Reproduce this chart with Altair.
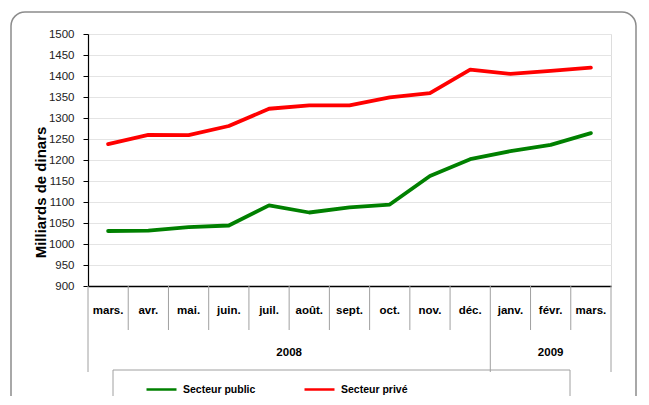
import altair as alt
import pandas as pd

months = ["mars.", "avr.", "mai.", "juin.", "juil.", "août.", "sept.", "oct.", "nov.", "déc.", "janv.", "févr.", "mars."]
years = ["2008", "2009"]
year_span = [(0, 10), (10, 13)]
public = [1031, 1032, 1040, 1044, 1092, 1075, 1087, 1094, 1162, 1202, 1221, 1236, 1264]
prive = [1238, 1260, 1259, 1281, 1322, 1330, 1330, 1349, 1359, 1415, 1405, 1412, 1420]
series_names = ["Secteur public", "Secteur privé"]
series_colors = ["#008000", "#ff0000"]

FONT = "Liberation Sans"
W, H = 523, 252

rows = []
for i, m in enumerate(months):
    rows.append({"pos": i + 0.5, "mois": m, "serie": series_names[0], "val": public[i]})
    rows.append({"pos": i + 0.5, "mois": m, "serie": series_names[1], "val": prive[i]})
df = pd.DataFrame(rows)

mdf = pd.DataFrame({"pos": [i + 0.5 for i in range(len(months))], "mois": months})
short_b = pd.DataFrame({"b": [b for b in range(1, len(months)) if b not in (10,)]})
long_b = pd.DataFrame({"b": [0, 10, 13]})
ydf = pd.DataFrame({"pos": [(a + b) / 2 for a, b in year_span], "year": years})

xs = alt.Scale(domain=[0, 13], nice=False, zero=False)
ys = alt.Scale(domain=[900, 1500], nice=False, zero=False)

frame = alt.Chart(pd.DataFrame({"k": [0]})).mark_rect(
    fill=None, stroke="#8c8c8c", strokeWidth=1.5, cornerRadius=14
).encode(x=alt.value(-77), x2=alt.value(548), y=alt.value(-22), y2=alt.value(420))

legbox = alt.Chart(pd.DataFrame({"k": [0]})).mark_rect(
    fill=None, stroke="#a0a0a0", strokeWidth=1
).encode(x=alt.value(25), x2=alt.value(482), y=alt.value(336), y2=alt.value(420))

lines = alt.Chart(df).mark_line(strokeWidth=3.8, strokeJoin="round", strokeCap="round").encode(
    x=alt.X("pos:Q", scale=xs, axis=alt.Axis(labels=False, ticks=False, grid=False, title=None,
                                              domainColor="black", domainWidth=1.5)),
    y=alt.Y("val:Q", scale=ys, axis=alt.Axis(
        values=list(range(900, 1501, 50)), format="d", title="Milliards de dinars",
        titleFont=FONT, titleFontSize=15, titleFontWeight="bold", titleColor="black",
        titleX=-48, titleY=158, titleBaseline="middle", titleAlign="center",
        labelFont=FONT, labelFontSize=11.5, labelColor="#222", labelPadding=9,
        tickColor="black", tickSize=5, domainColor="black", domainWidth=1.2,
        gridColor="#e4e4e4", gridWidth=1)),
    color=alt.Color("serie:N", scale=alt.Scale(domain=series_names, range=series_colors),
                    legend=alt.Legend(orient="none", legendX=57, legendY=339, direction="horizontal",
                                      title=None, symbolType="stroke", symbolSize=900,
                                      symbolStrokeWidth=2.5, labelFont=FONT, labelFontSize=10.5,
                                      labelFontWeight="bold", labelColor="black",
                                      columnPadding=43, labelOffset=5, padding=0)),
)

mlabels = alt.Chart(mdf).mark_text(font=FONT, fontSize=11.5, fontWeight="bold", color="black",
                                   baseline="middle").encode(
    x=alt.X("pos:Q", scale=xs), y=alt.value(277), text="mois:N")

sticks = alt.Chart(short_b).mark_rule(color="#a0a0a0", strokeWidth=1).encode(
    x=alt.X("b:Q", scale=xs), y=alt.value(252), y2=alt.value(296))
lticks = alt.Chart(long_b).mark_rule(color="#a0a0a0", strokeWidth=1).encode(
    x=alt.X("b:Q", scale=xs), y=alt.value(252), y2=alt.value(338))

ylabels = alt.Chart(ydf).mark_text(font=FONT, fontSize=11.5, fontWeight="bold", color="black",
                                   baseline="middle").encode(
    x=alt.X("pos:Q", scale=xs), y=alt.value(319), text="year:N")

chart = alt.layer(frame, legbox, sticks, lticks, lines, mlabels, ylabels).properties(
    width=W, height=H,
    autosize=alt.AutoSizeParams(type="none"),
    padding={"left": 80, "top": 26, "right": 28, "bottom": 110},
).configure_view(stroke="#9a9a9a", strokeWidth=1).configure(background="white")

chart.save("out.html", embed_options={"renderer": "svg", "actions": False})
